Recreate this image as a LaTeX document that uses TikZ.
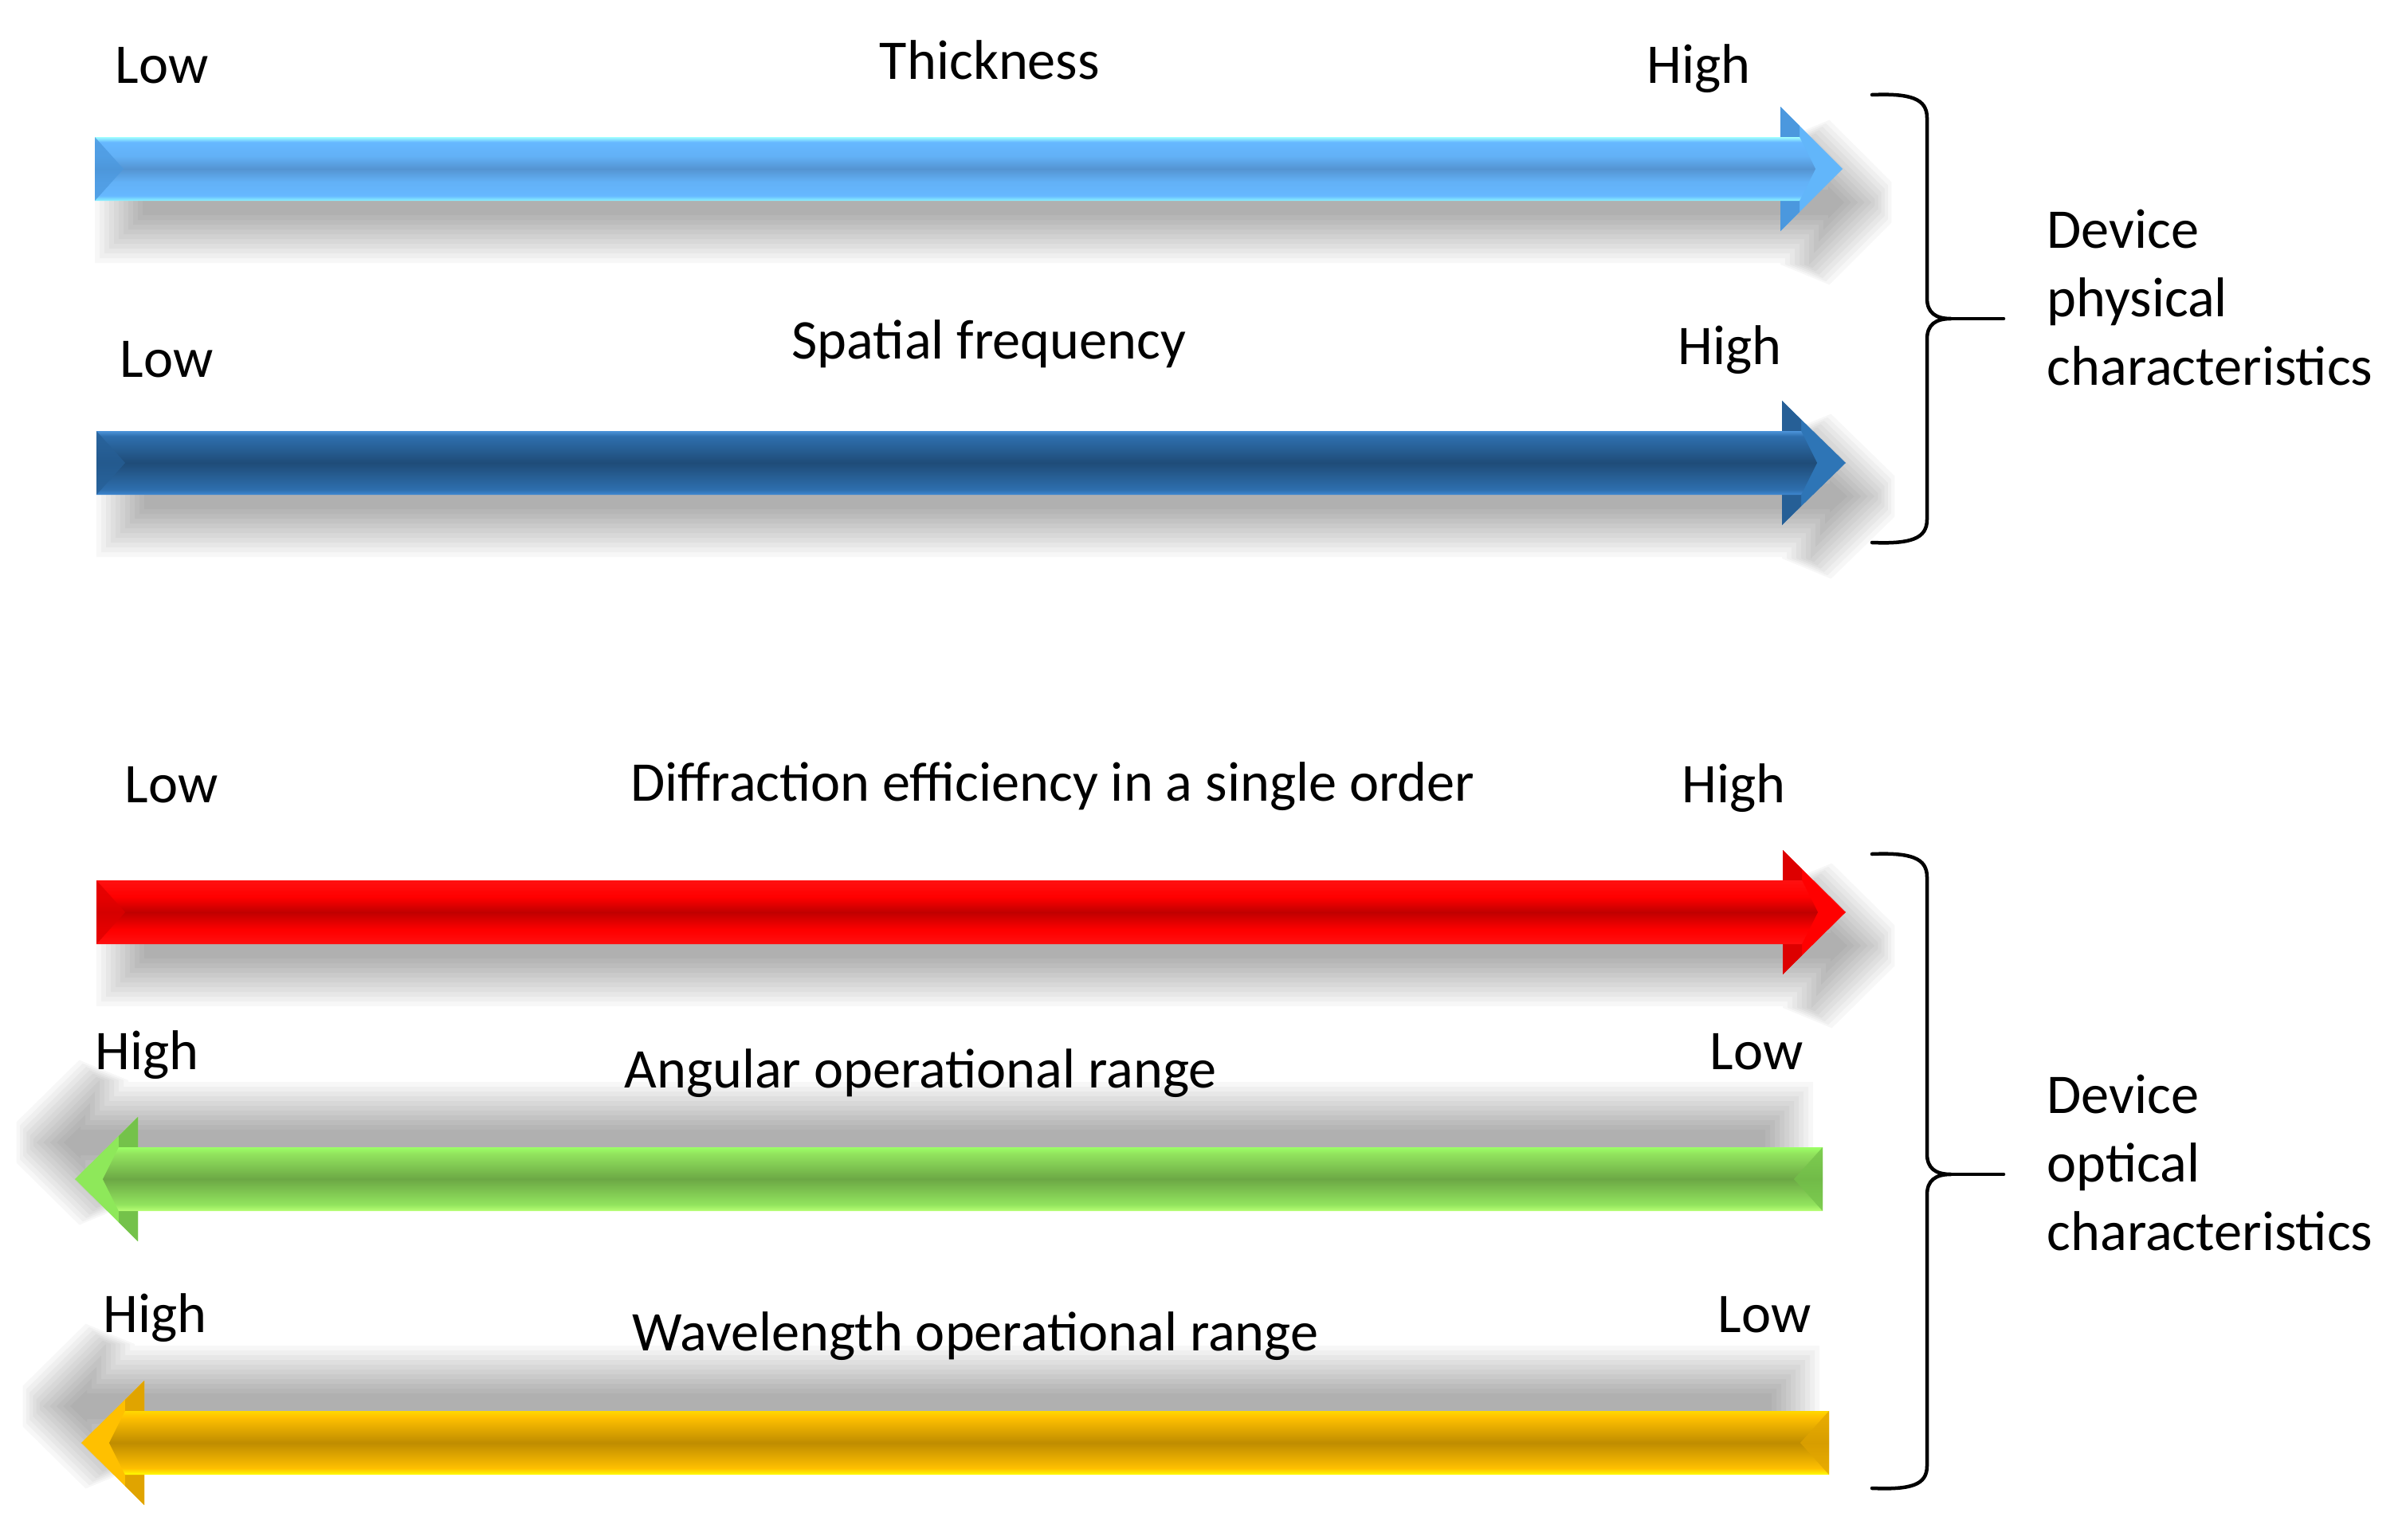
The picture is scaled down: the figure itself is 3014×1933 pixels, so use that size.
\documentclass[tikz,border=0pt]{standalone}
\usepackage{fontspec}
\setmainfont{Carlito}
% light blue
\definecolor{lbE1}{HTML}{8CF4FF}\definecolor{lbL}{HTML}{66B8FF}\definecolor{lbM}{HTML}{5494D2}\definecolor{lbE2}{HTML}{A0FFFF}
\definecolor{lbHead}{HTML}{62B6FA}\definecolor{lbBev}{HTML}{4B98DE}
% dark blue
\definecolor{dbE1}{HTML}{3F88D2}\definecolor{dbL}{HTML}{2E6FAE}\definecolor{dbM}{HTML}{1F4C78}\definecolor{dbE2}{HTML}{4C94DA}
\definecolor{dbHead}{HTML}{2E75B6}\definecolor{dbBev}{HTML}{265F96}
% red
\definecolor{rdE}{HTML}{FF1010}\definecolor{rdL}{HTML}{FF0000}\definecolor{rdM}{HTML}{C00000}
\definecolor{rdHead}{HTML}{FF0000}\definecolor{rdBev}{HTML}{DD0000}
% green
\definecolor{grE1}{HTML}{B8FF74}\definecolor{grL}{HTML}{92E45E}\definecolor{grM}{HTML}{6CA845}\definecolor{grE2}{HTML}{9CFF66}
\definecolor{grHead}{HTML}{8EE85A}\definecolor{grBev}{HTML}{74C24A}
% yellow
\definecolor{ylE1}{HTML}{FFFF00}\definecolor{ylL}{HTML}{FFC000}\definecolor{ylM}{HTML}{BF8C00}\definecolor{ylE2}{HTML}{FFD800}
\definecolor{ylHead}{HTML}{FFC000}\definecolor{ylBev}{HTML}{E0A400}

\pgfdeclareverticalshading{shLB}{100bp}{color(0bp)=(lbE1); color(25bp)=(lbE1); color(29bp)=(lbL); color(40bp)=(lbL!80!lbM); color(50bp)=(lbM); color(60bp)=(lbL!80!lbM); color(71bp)=(lbL); color(75bp)=(lbE2); color(100bp)=(lbE2)}
\pgfdeclareverticalshading{shDB}{100bp}{color(0bp)=(dbE1); color(25bp)=(dbE1); color(29bp)=(dbL); color(50bp)=(dbM); color(71bp)=(dbL); color(75bp)=(dbE2); color(100bp)=(dbE2)}
\pgfdeclareverticalshading{shRD}{100bp}{color(0bp)=(rdE); color(25bp)=(rdE); color(36bp)=(rdL); color(50bp)=(rdM); color(62bp)=(rdL); color(75bp)=(rdE); color(100bp)=(rdE)}
\pgfdeclareverticalshading{shGR}{100bp}{color(0bp)=(grE1); color(25bp)=(grE1); color(30bp)=(grL); color(50bp)=(grM); color(70bp)=(grL); color(75bp)=(grE2); color(100bp)=(grE2)}
\pgfdeclareverticalshading{shYL}{100bp}{color(0bp)=(ylE1); color(25bp)=(ylE1); color(30bp)=(ylL); color(50bp)=(ylM); color(70bp)=(ylL); color(75bp)=(ylE2); color(100bp)=(ylE2)}

% soft shadow of an arrow: #1 flat-end x, #2 head back x, #3 tip x, #4 centre y, #5 dx, #6 dy, #7 direction (+1 right, -1 left)
\newcommand\ArrowShadow[7]{%
  \foreach \e [evaluate=\e as \p using {max(\e,0)}, evaluate=\e as \n using {min(\e,0)}] in {-24,-18,...,36}{%
    \fill[shadowlayer]
      ({#1-#7*\e+#5},{#4-40-\e+#6}) -- ({#2-#7*\e+#5},{#4-40-\e+#6})
      -- ({#2-#7*\e+#5},{#4-78-2.414*\n+#6})
      -- ({#2+#7*(1.707*\p-\e)+#5},{#4-78-2.414*\n-0.707*\p+#6})
      -- ({#3+#7*(0.707*\p+1.414*\n)+#5},{#4-0.707*\p+#6})
      -- ({#3+#7*(0.707*\p+1.414*\n)+#5},{#4+0.707*\p+#6})
      -- ({#2+#7*(1.707*\p-\e)+#5},{#4+78+2.414*\n+0.707*\p+#6})
      -- ({#2-#7*\e+#5},{#4+78+2.414*\n+#6})
      -- ({#2-#7*\e+#5},{#4+40+\e+#6}) -- ({#1-#7*\e+#5},{#4+40+\e+#6}) -- cycle;
  }%
}
% right-pointing arrow: #1 left x, #2 head back x, #3 tip x, #4 centre y, #5 shading, #6 head colour, #7 bevel colour
\newcommand\RArrow[7]{%
  \ArrowShadow{#1}{#2}{#3}{#4}{36}{42}{1}%
  \fill[#6] (#2,{#4-78}) -- (#3,#4) -- (#2,{#4+78}) -- cycle;
  \fill[#7] (#2,{#4-78}) -- ({#2+24},{#4-54}) -- ({#2+24},{#4+54}) -- (#2,{#4+78}) -- cycle;
  \shade[shading=#5] (#1,{#4-40}) -- ({#2+24},{#4-40}) -- ({#2+44},#4) -- ({#2+24},{#4+40}) -- (#1,{#4+40}) -- cycle;
  \fill[#7, opacity=0.75] (#1,{#4-40}) -- ({#1+36},#4) -- (#1,{#4+40}) -- cycle;
}
% left-pointing arrow: #1 right x, #2 head back x, #3 tip x, #4 centre y
\newcommand\LArrow[7]{%
  \ArrowShadow{#1}{#2}{#3}{#4}{-48}{-46}{-1}%
  \fill[#6] (#2,{#4-78}) -- (#3,#4) -- (#2,{#4+78}) -- cycle;
  \fill[#7] (#2,{#4-78}) -- ({#2-24},{#4-54}) -- ({#2-24},{#4+54}) -- (#2,{#4+78}) -- cycle;
  \shade[shading=#5] (#1,{#4-40}) -- ({#2-24},{#4-40}) -- ({#2-44},#4) -- ({#2-24},{#4+40}) -- (#1,{#4+40}) -- cycle;
  \fill[#7, opacity=0.75] (#1,{#4-40}) -- ({#1-36},#4) -- (#1,{#4+40}) -- cycle;
}

\begin{document}
\begin{tikzpicture}[x=0.01cm, y=-0.01cm,
  shadowlayer/.style={black, opacity=0.032},
  lbl/.style={inner sep=0pt, text=black, font=\fontsize{20}{24}\selectfont},
  bracepath/.style={draw=black, line width=0.045cm, line cap=round, line join=round}]
\useasboundingbox[fill=white] (0,0) rectangle (3014,1933);

% arrows
\RArrow{119}{2234}{2312}{212}{shLB}{lbHead}{lbBev}
\RArrow{121}{2236}{2316}{581}{shDB}{dbHead}{dbBev}
\RArrow{121}{2237}{2316}{1145}{shRD}{rdHead}{rdBev}
\LArrow{2287}{173}{94}{1480}{shGR}{grHead}{grBev}
\LArrow{2295}{181}{102}{1811}{shYL}{ylHead}{ylBev}

% labels row 1
\node[lbl, anchor=base west] (low1) at (144,104) {Low};
\node[lbl, anchor=base] (thick) at (1242,100) {Thickness};
\node[lbl, anchor=base west] (high1) at (2066,104) {High};
% row 2
\node[lbl, anchor=base west] (low2) at (150,473) {Low};
\node[lbl, anchor=base] (spat) at (1241,450) {Spatial frequency};
\node[lbl, anchor=base west] (high2) at (2105,457) {High};
% row 3
\node[lbl, anchor=base west] (low3) at (156,1007) {Low};
\node[lbl, anchor=base] (diff) at (1321,1005) {Diffraction efficiency in a single order};
\node[lbl, anchor=base west] (high3) at (2110,1007) {High};
% row 4
\node[lbl, anchor=base west] (high4) at (119,1342) {High};
\node[lbl, anchor=base] (ang) at (1155,1365) {Angular operational range};
\node[lbl, anchor=base west] (low4) at (2145,1342) {Low};
% row 5
\node[lbl, anchor=base west] (high5) at (129,1672) {High};
\node[lbl, anchor=base] (wave) at (1224,1695) {Wavelength operational range};
\node[lbl, anchor=base west] (low5) at (2155,1672) {Low};

% braces
\coordinate (b1top) at (2349,119);
\coordinate (b1bot) at (2349,681);
\coordinate (b1cusp) at (2448,400);
\coordinate (b1tip) at (2514,400);
\draw[bracepath] (b1top) .. controls (2398,117) and (2418,124) .. (2418,148) -- (2418,374)
  .. controls (2418,392) and (2428,400) .. (b1cusp)
  .. controls (2428,400) and (2418,408) .. (2418,426) -- (2418,652)
  .. controls (2418,676) and (2398,683) .. (b1bot);
\draw[bracepath] (b1cusp) -- (b1tip);

\coordinate (b2top) at (2349,1072);
\coordinate (b2bot) at (2349,1868);
\coordinate (b2cusp) at (2448,1474);
\coordinate (b2tip) at (2514,1474);
\draw[bracepath] (b2top) .. controls (2398,1070) and (2418,1077) .. (2418,1101) -- (2418,1448)
  .. controls (2418,1466) and (2428,1474) .. (b2cusp)
  .. controls (2428,1474) and (2418,1482) .. (2418,1500) -- (2418,1840)
  .. controls (2418,1864) and (2398,1870) .. (b2bot);
\draw[bracepath] (b2cusp) -- (b2tip);

% side labels
\node[lbl, anchor=base west] (dp1) at (2568,311) {Device};
\node[lbl, anchor=base west] (dp2) at (2568,397) {physical};
\node[lbl, anchor=base west] (dp3) at (2568,483) {characteristics};
\node[lbl, anchor=base west] (do1) at (2568,1397) {Device};
\node[lbl, anchor=base west] (do2) at (2568,1483) {optical};
\node[lbl, anchor=base west] (do3) at (2568,1569) {characteristics};
\end{tikzpicture}
\end{document}
